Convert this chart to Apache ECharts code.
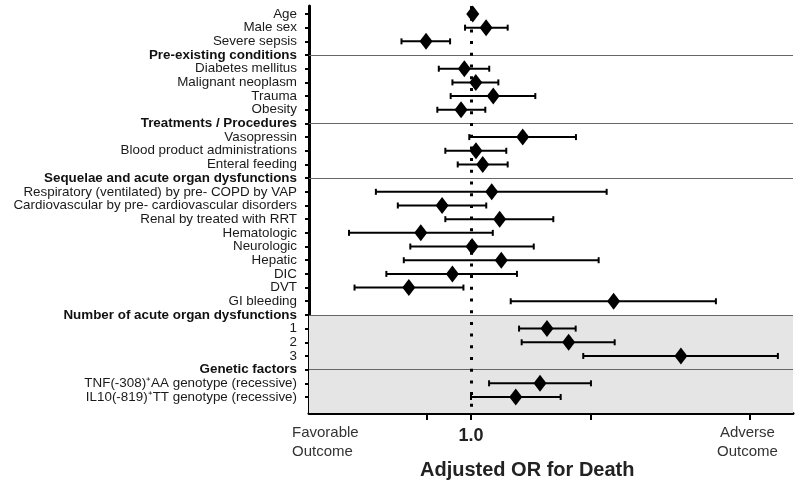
<!DOCTYPE html>
<html>
<head>
<meta charset="utf-8">
<script src="https://cdn.jsdelivr.net/npm/echarts@6/dist/echarts.min.js"></script>
<style>
  html, body { margin: 0; padding: 0; background: #fff; }
  #chart { width: 800px; height: 487px; }
</style>
</head>
<body>
<div id="chart"></div>
<script>
// ---- data ----
const rowLabels = [
  'Age', 'Male sex', 'Severe sepsis',
  'Pre-existing conditions',
  'Diabetes mellitus', 'Malignant neoplasm', 'Trauma', 'Obesity',
  'Treatments / Procedures',
  'Vasopressin', 'Blood product administrations', 'Enteral feeding',
  'Sequelae and acute organ dysfunctions',
  'Respiratory (ventilated) by pre- COPD by VAP',
  'Cardiovascular by pre- cardiovascular disorders',
  'Renal by treated with RRT', 'Hematologic', 'Neurologic', 'Hepatic',
  'DIC', 'DVT', 'GI bleeding',
  'Number of acute organ dysfunctions',
  '1', '2', '3',
  'Genetic factors',
  'TNF(-308)\u207AAA genotype (recessive)',
  'IL10(-819)\u207ATT genotype (recessive)'
];
const headerRows = [3, 8, 12, 22, 26];
const oddsRatio = [1.01, 1.091, 0.771, null, 0.962, 1.028, 1.137, 0.944, null,
  1.348, 1.029, 1.070, null, 1.127, 0.846, 1.180, 0.748, 1.006, 1.191, 0.898,
  0.698, 2.280, null, 1.551, 1.758, 3.364, null, 1.490, 1.295];
const ciLower = [1.00, 0.966, 0.669, null, 0.830, 0.898, 0.889, 0.823, null,
  0.990, 0.862, 0.926, null, 0.577, 0.655, 0.862, 0.494, 0.704, 0.678, 0.613,
  0.510, 1.258, null, 1.320, 1.340, 1.913, null, 1.110, 1.000];
const ciUpper = [1.02, 1.236, 0.886, null, 1.111, 1.171, 1.450, 1.086, null,
  1.834, 1.226, 1.236, null, 2.190, 1.092, 1.609, 1.134, 1.437, 2.091, 1.304,
  0.957, 4.118, null, 1.831, 2.294, 5.892, null, 2.000, 1.679];
const xTickValues = [0.775, 1, 2, 5];
const xLabelValues = [1];
const shadedFromRow = 22;

// ---- build ----
const FONT = '"Liberation Sans", Arial, sans-serif';
const rowIdx = rowLabels.map((_, i) => i);
const pointData = [];
const barData = [];
rowLabels.forEach((_, i) => {
  if (oddsRatio[i] != null) {
    pointData.push([oddsRatio[i], i]);
    barData.push([ciLower[i], ciUpper[i], i]);
  }
});
const Y_MIN = -0.585, Y_MAX = 29.17;

const chart = echarts.init(document.getElementById('chart'), null, { renderer: 'canvas' });
chart.setOption({
  animation: false,
  backgroundColor: '#fff',
  grid: { left: 309, right: 7, top: 6, bottom: 74, containLabel: false },
  xAxis: {
    type: 'log', position: 'bottom',
    min: 0.392, max: 6.43,
    axisLine: { show: true, onZero: false, lineStyle: { color: '#000', width: 3 } },
    axisTick: { show: true, customValues: xTickValues, length: 7, lineStyle: { color: '#000', width: 2 } },
    axisLabel: {
      show: true, customValues: xLabelValues, margin: 14,
      formatter: v => Number(v).toFixed(1),
      color: '#222', fontFamily: FONT, fontSize: 18, fontWeight: 'bold'
    },
    splitLine: { show: false }
  },
  yAxis: {
    type: 'value', inverse: true, min: Y_MIN, max: Y_MAX, position: 'left',
    axisLine: { show: true, onZero: false, lineStyle: { color: '#000', width: 3 } },
    axisTick: { show: true, customValues: rowIdx, length: 4, lineStyle: { color: '#000', width: 2 } },
    axisLabel: {
      show: true, customValues: rowIdx, margin: 12, hideOverlap: false,
      showMinLabel: true, showMaxLabel: true,
      fontSize: 13.4,
      formatter: v => {
        const i = Math.round(v);
        const t = rowLabels[i];
        return headerRows.indexOf(i) >= 0 ? '{h|' + t + '}' : '{n|' + t + '}';
      },
      rich: {
        n: { fontFamily: FONT, fontSize: 13.4, color: '#1a1a1a' },
        h: { fontFamily: FONT, fontSize: 13.4, color: '#111', fontWeight: 'bold' }
      }
    },
    splitLine: { show: false }
  },
  series: [
    {
      type: 'scatter', data: [], z: 1, silent: true,
      markArea: {
        silent: true,
        itemStyle: { color: '#e5e5e5' },
        data: [[{ yAxis: shadedFromRow }, { yAxis: Y_MAX }]]
      },
      markLine: {
        silent: true, symbol: 'none', label: { show: false },
        lineStyle: { color: '#666', width: 1, type: 'solid' },
        data: headerRows.map(r => ({ yAxis: r }))
      }
    },
    {
      type: 'scatter', data: [], z: 2, silent: true,
      markLine: {
        silent: true, symbol: 'none', label: { show: false },
        lineStyle: { color: '#000', width: 3, type: [3, 8.7] },
        data: [{ xAxis: 1 }]
      }
    },
    {
      type: 'custom', z: 3, silent: true,
      data: barData,
      encode: { x: [0, 1], y: 2 },
      renderItem: (params, api) => {
        const lo = api.coord([api.value(0), api.value(2)]);
        const hi = api.coord([api.value(1), api.value(2)]);
        const st = { stroke: '#000', lineWidth: 2 };
        return {
          type: 'group',
          children: [
            { type: 'line', shape: { x1: lo[0], y1: lo[1], x2: hi[0], y2: hi[1] }, style: st },
            { type: 'line', shape: { x1: lo[0], y1: lo[1] - 3, x2: lo[0], y2: lo[1] + 3 }, style: st },
            { type: 'line', shape: { x1: hi[0], y1: hi[1] - 3, x2: hi[0], y2: hi[1] + 3 }, style: st }
          ]
        };
      }
    },
    {
      type: 'scatter', z: 4, silent: true,
      data: pointData,
      symbol: 'diamond', symbolSize: [13, 17],
      itemStyle: { color: '#000', opacity: 1 }
    }
  ],
  graphic: [
    { type: 'text', left: 292, top: 423, silent: true,
      style: { text: 'Favorable\nOutcome', fill: '#333', font: '15px ' + FONT, lineHeight: 19, textAlign: 'left' } },
    { type: 'text', left: 717, top: 423, silent: true,
      style: { text: 'Adverse\nOutcome', fill: '#333', font: '15px ' + FONT, lineHeight: 19, textAlign: 'center' } },
    { type: 'text', left: 420, top: 460, silent: true,
      style: { text: 'Adjusted OR for Death', fill: '#222', font: 'bold 20px ' + FONT } }
  ]
});
</script>
</body>
</html>
